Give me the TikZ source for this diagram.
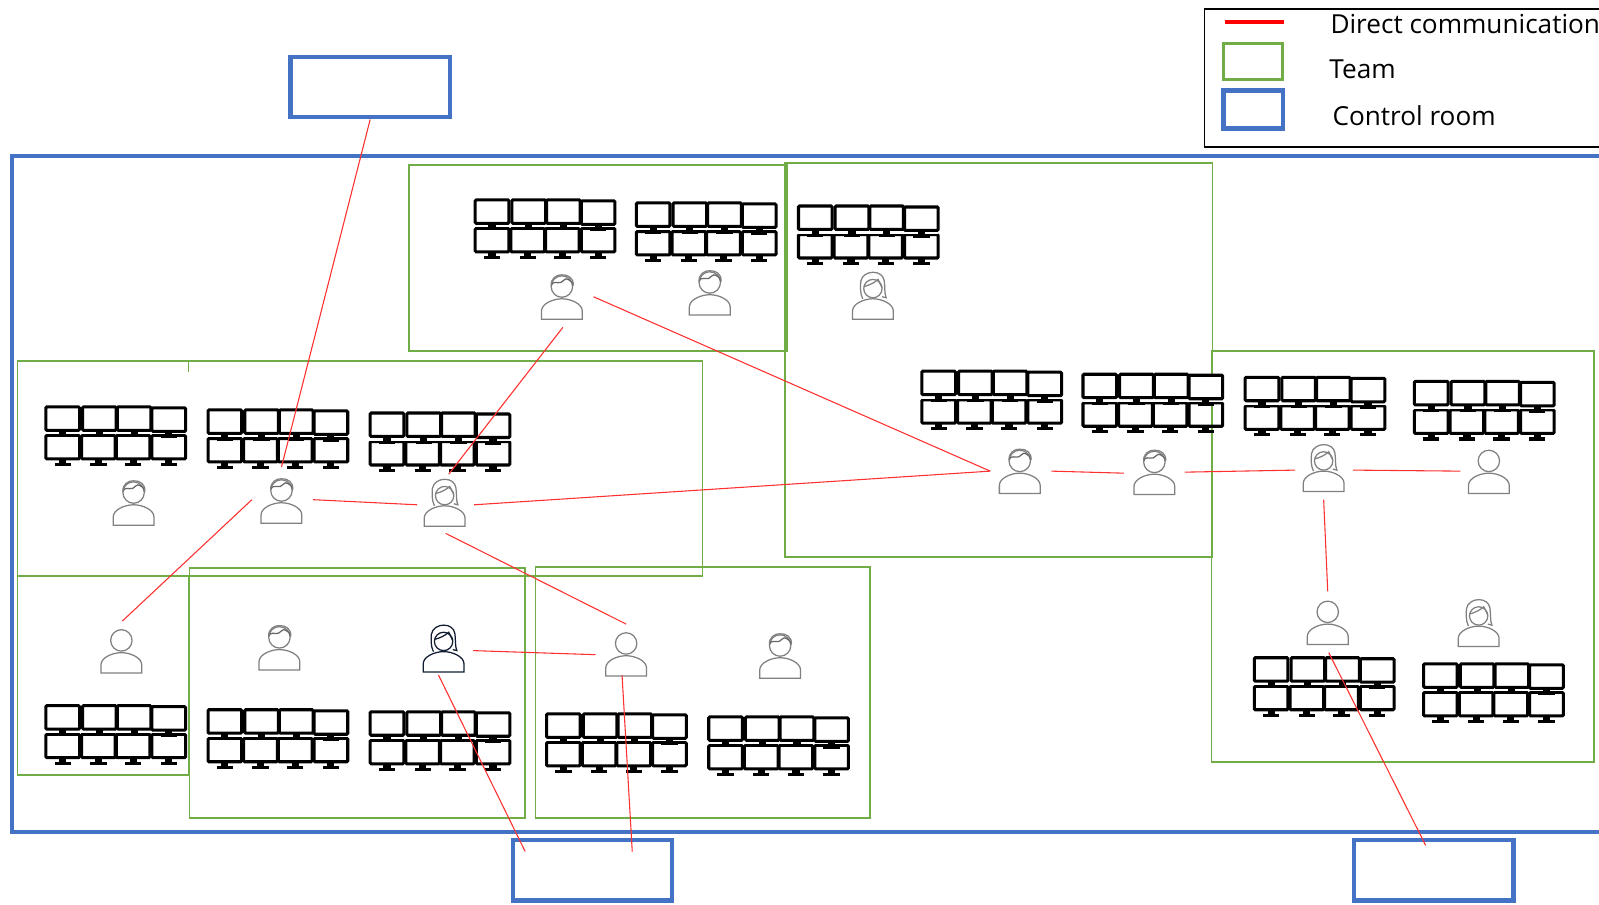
\documentclass[tikz,border=0pt]{standalone}
\usepackage{fontspec}
\setmainfont{Open Sans}
\usetikzlibrary{calc}
\definecolor{roomblue}{HTML}{4472C4}
\definecolor{teamgreen}{HTML}{70AD47}
\definecolor{commred}{HTML}{FF3030}
\definecolor{persongray}{HTML}{808080}
\tikzset{
    commline/.style={commred,line width=0.3pt},
    teambox/.style={draw=teamgreen,line width=0.45pt},
    roombox/.style={draw=roomblue,line width=1.2pt,minimum width=1.56cm,minimum height=0.59cm,inner sep=0pt},
    legendtext/.style={anchor=west,inner sep=0pt,font=\fontsize{7.3pt}{8pt}\selectfont},
    pics/monitor/.style={code={
        \draw[black,line width=0.85pt,rounded corners=0.3pt] (0,0) rectangle (33,23);
        \fill[black] (13,23) rectangle (20,27);
        \fill[black] (8.5,27) rectangle (24.5,30);
    }},
    pics/wall/.style={code={
        \pic at (1,29) {monitor};
        \pic at (36,29) {monitor};
        \pic at (70,29) {monitor};
        \pic at (105,29) {monitor};
        \fill[white] (1,1) rectangle (138,28);
        \pic at (1,1) {monitor};
        \pic at (37,1) {monitor};
        \pic at (71,1) {monitor};
        \pic at (105,2) {monitor};
    }},
    pics/body/.style={code={
        \draw[#1,line width=0.35pt] (-20,0) -- (20,0) -- (20,-8) .. controls (20,-15) and (9,-20) .. (0,-20) .. controls (-9,-20) and (-20,-15) .. (-20,-8) -- cycle;
    }},
    pics/plainperson/.style={code={
        \pic {body=persongray};
        \draw[persongray,line width=0.35pt] (0,-32) circle (10.5);
    }},
    pics/manperson/.style={code={
        \pic {body=persongray};
        \draw[persongray,line width=0.35pt] (0,-32) circle (10.5);
        \draw[persongray!80!black,line width=0.35pt] (-10.5,-33) .. controls (-9,-38) and (-5,-35) .. (-1,-36) .. controls (2,-37) and (3,-41) .. (6,-39) .. controls (8,-38) and (10,-37) .. (11,-33);
        \draw[persongray,line width=0.35pt] (-10.5,-33) .. controls (-11,-40) and (-5,-44) .. (0,-43.5) .. controls (6,-44) and (12,-40) .. (11,-33);
    }},
    pics/womanperson/.style={code={
        \pic {body=#1};
        \draw[#1,line width=0.35pt] (0,-30) circle (9);
        \draw[#1,line width=0.35pt] (-9,-32) .. controls (-4,-33) and (2,-36) .. (5,-39) .. controls (6,-36) and (8,-34) .. (9,-31);
        \draw[#1,line width=0.35pt] (-10,-20) .. controls (-13,-26) and (-12,-32) .. (-12,-37) .. controls (-11,-43) and (-5,-46) .. (0,-46) .. controls (6,-46) and (10,-43) .. (11,-38) .. controls (12,-33) and (11,-25) .. (13,-21) -- (9,-22);
    }}
}
\begin{document}
\begin{tikzpicture}[x=0.01cm,y=-0.01cm]
    \useasboundingbox (0,0) rectangle (1568,887.4);
    \clip (0,0) rectangle (1568,887.4);

    % control rooms
    \draw[draw=roomblue,line width=1.2pt] (12,153) rectangle (1600,816);
    \node[roombox] (roomtop) at (363,85.5) {};
    \node[roombox] (roomleft) at (581,853.5) {};
    \node[roombox] (roomright) at (1406,853.5) {};

    % teams
    \draw[teambox] (401,162) rectangle (772,344);
    \draw[teambox] (770,160) rectangle (1189,546);
    \draw[teambox] (17,354) rectangle (689,565);
    \draw[teambox] (185,354) -- (185,365);
    \draw[teambox] (17,565) rectangle (185,760);
    \draw[teambox] (186,557) rectangle (515,802);
    \draw[teambox] (525,556) rectangle (853,802);
    \draw[teambox] (1188,344) rectangle (1563,747);

    % monitors
    \pic at (465,195) {wall};
    \pic at (623,198) {wall};
    \pic at (782,201) {wall};
    \pic at (44,398) {wall};
    \pic at (203,401) {wall};
    \pic at (362,404) {wall};
    \pic at (903,363) {wall};
    \pic at (1061,366) {wall};
    \pic at (1220,369) {wall};
    \pic at (1386,373) {wall};
    \pic at (44,691) {wall};
    \pic at (203,695) {wall};
    \pic at (362,697) {wall};
    \pic at (535,699) {wall};
    \pic at (694,702) {wall};
    \pic at (1229,644) {wall};
    \pic at (1395,650) {wall};

    % people
    \pic at (131,515) {manperson};
    \pic at (276,513) {manperson};
    \pic at (551,313) {manperson};
    \pic at (696,309) {manperson};
    \pic at (274,657) {manperson};
    \pic at (765,665) {manperson};
    \pic at (1000,484) {manperson};
    \pic at (1132,485) {manperson};
    \pic at (119,660) {plainperson};
    \pic at (614,663) {plainperson};
    \pic at (1460,484) {plainperson};
    \pic at (1302,632) {plainperson};
    \pic at (436,516) {womanperson=persongray};
    \pic at (856,313) {womanperson=persongray};
    \pic at (435,659) {womanperson=black!75!roomblue};
    \pic at (1298,482) {womanperson=persongray};
    \pic at (1450,634) {womanperson=persongray};

    % line ends
    \coordinate (leadA) at (276,458);
    \coordinate (leadBa) at (247,490);
    \coordinate (leadBb) at (307,490);
    \coordinate (sideA) at (120,609);
    \coordinate (womanAa) at (409,495);
    \coordinate (womanAb) at (465,495);
    \coordinate (womanAc) at (440,465);
    \coordinate (womanAd) at (437,523);
    \coordinate (deskA) at (552,321);
    \coordinate (deskB) at (582,291);
    \coordinate (hubA) at (971,462);
    \coordinate (hubB) at (1031,462);
    \coordinate (hubC) at (1102,464);
    \coordinate (hubD) at (1162,463);
    \coordinate (womanBa) at (1270,461);
    \coordinate (womanBb) at (1327,461);
    \coordinate (womanBc) at (1298,490);
    \coordinate (plainA) at (1432,462);
    \coordinate (plainBa) at (1302,580);
    \coordinate (plainBb) at (1303,640);
    \coordinate (plainCa) at (614,612);
    \coordinate (plainCb) at (584,642);
    \coordinate (plainCc) at (610,662);
    \coordinate (womanCa) at (464,638);
    \coordinate (womanCb) at (430,662);
    \coordinate (inleftA) at (515,835);
    \coordinate (inleftB) at (620,835);
    \coordinate (inright) at (1398,829);

    % direct communication
    \draw[commline] (roomtop.south) -- (leadA);
    \draw[commline] (deskA) -- (womanAc);
    \draw[commline] (deskB) -- (hubA);
    \draw[commline] (hubA) -- (womanAb);
    \draw[commline] (leadBb) -- (womanAa);
    \draw[commline] (leadBa) -- (sideA);
    \draw[commline] (womanAd) -- (plainCa);
    \draw[commline] (womanCa) -- (plainCb);
    \draw[commline] (womanCb) -- (inleftA);
    \draw[commline] (plainCc) -- (inleftB);
    \draw[commline] (hubB) -- (hubC);
    \draw[commline] (hubD) -- (womanBa);
    \draw[commline] (womanBb) -- (plainA);
    \draw[commline] (womanBc) -- (plainBa);
    \draw[commline] (plainBb) -- (inright);

    % legend
    \draw[black,line width=0.4pt] (1181,9) rectangle (1600,144);
    \coordinate (keylineA) at (1201,22);
    \coordinate (keylineB) at (1259,22);
    \draw[red,line width=1.1pt] (keylineA) -- (keylineB);
    \draw[draw=teamgreen,line width=0.8pt] (1200,43) rectangle (1258,78);
    \draw[draw=roomblue,line width=1.3pt] (1200,89) rectangle (1258,126);
    \node[legendtext] (keycomm) at (1304,24) {Direct communication};
    \node[legendtext] (keyteam) at (1303,68) {Team};
    \node[legendtext] (keyroom) at (1306,113) {Control room};
\end{tikzpicture}
\end{document}
